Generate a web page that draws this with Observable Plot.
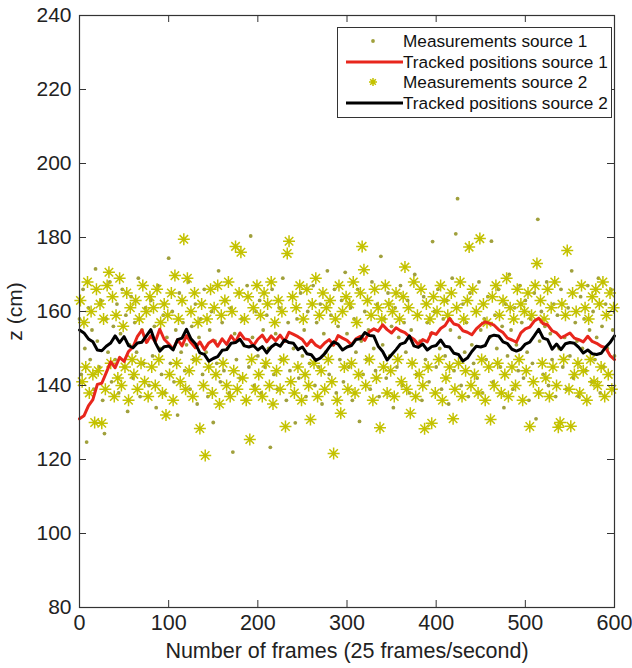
<!DOCTYPE html>
<html>
<head>
<meta charset="utf-8">
<script src="https://cdn.jsdelivr.net/npm/d3@7"></script>
<script src="https://cdn.jsdelivr.net/npm/@observablehq/plot@0.6"></script>
<style>
  html, body { margin: 0; padding: 0; background: #fff; }
  #wrap { position: relative; width: 632px; height: 668px; font-family: "Liberation Sans", Arial, Helvetica, sans-serif; }
  #legend { position: absolute; left: 337px; top: 27px; width: 275px; height: 91px; border: 1px solid #333; background: #fff; box-sizing: border-box; font-size: 17.2px; color: #111; }
  #legend .row { position: absolute; left: 0; height: 20px; width: 100%; }
  #legend svg { position: absolute; left: 6px; top: 0; }
  #legend span { position: absolute; left: 65px; top: 0; line-height: 20px; white-space: nowrap; }
</style>
</head>
<body>
<div id="wrap"></div>
<script>
// ---- Data ----
const xTicks = [0, 100, 200, 300, 400, 500, 600];
const yTicks = [80, 100, 120, 140, 160, 180, 200, 220, 240];
const seriesNames = ["Measurements source 1", "Tracked positions source 1", "Measurements source 2", "Tracked positions source 2"];

// Measurements source 1 (dots), frames 0,2,4,...,600
const meas1 = [
158,143,166,150,124.7,161,147,155,139,171.5,
152,145,163,136,127,158,149,168,141,156,
147,162,138,154,166,145,159,133,151,164,
142,157,149,169,137,155,146,161,152,140,
163,148,156,134,167,150,143,159,138,153,
174.4,146,160,141,155,132,165,149,157,144,
151,168,139,156,147,162,135,153,158,143,
166,149,137,155,160,130,152,146,171,141,
157,144,163,150,138,161,122,154,147,165,
142,158,151,136,167,145,180.4,153,140,160,
148,163,138,155,145,159,150,123.3,166,143,
154,139,161,147,169,152,136,157,144,164,
150,129.9,158,142,165,148,155,137,160,146,
152,167,140,157,145,162,135,154,149,171,
143,159,151,166,138,156,147,163,141,170.6,
154,145,161,136,158,149,166,130.3,152,143,
160,147,155,139,168,150,144,162,137,174.9,
151,158,142,165,148,156,134,161,145,153,
167,140,157,149,163,138,155,146,170,143,
159,152,136,164,147,157,141,154,178.9,160,
145,166,150,139,158,148,163,135,155,169,
144,181,190.5,153,140,162,149,157,137,165,
151,146,160,142,168,155,138,158,147,164,
153,179,141,159,150,166,145,156,134,162,
148,170,155,139,161,151,144,167,157,142,
163,149,136,158,146,165,131,184.9,152,160,
143,156,168,140,154,147,162,137,159,150,
166,145,153,139,161,148,171,142,157,152,
137,164,150,158,144,167,155,141,160,147,
153,169,138,156,145,162,150,143,166,155,
148];

// Measurements source 2 (asterisks), frames 1,3,5,...,599
const meas2 = [
163,141,157,145,168,138,160,143,130,166,
144,162,129.8,158,139,167,170.6,146,164,137,
159,142,169,140,156,145,165,136,161,147,
143,163,139,158,146,167,141,160,137,164,
145,161,140,166,147,157,138,162,132,159,
143,165,136,169.7,146,158,141,163,179.5,139,
169,144,160,137,165,147,157,128.4,162,140,
121.1,158,145,166,138,161,143,167,135,159,
146,163,140,168,137,160,144,177.6,139,165,
176,142,158,136,164,125.4,147,161,139,167,
143,159,137,165,146,162,140,168,135,157,
144,163,139,160,147,128.9,175.7,179,141,164,
138,161,145,167,136,158,143,166,140,130.8,
162,146,169,137,159,144,165,139,161,147,
163,141,121.6,158,136,167,132.5,160,145,164,
139,162,146,168,138,157,143,165,177.6,171.3,
140,163,147,159,136,166,142,161,128.6,158,
145,167,138,162,144,160,137,165,147,158,
141,164,172,139,161,132.5,146,168,137,159,
143,166,140,128.3,162,145,158,129.8,164,138,
160,147,167,136,163,142,159,145,165,131,
139,161,146,168,137,158,144,163,177.4,140,
166,143,160,138,179.7,147,162,136,157,145,
130.8,164,140,167,146,159,138,163,143,169,
137,161,145,158,140,166,147,162,136,160,
144,165,128.9,159,141,167,173,138,163,146,
158,142,166,137,161,145,168,140,128.7,130,
162,147,159,176.5,139,129,165,143,160,146,
138,167,144,161,136,158,147,164,141,166,
140,162,145,168,137,159,143,165,139,161];

// Tracked positions, frames 0,5,10,...,600
const track1 = [
131,131.8,134.5,136.2,140.3,140.6,143.5,146.4,144.8,147.6,
146.5,149.2,150.4,153.3,155,151.6,153.4,151.8,155.2,152.5,
151.3,149.8,152.4,150.7,153.5,151.6,150.2,151.8,149.7,151.5,
152.3,150.6,152.6,151.1,153.4,151.8,154.2,152.6,152.4,150.8,
152.5,153.6,151.8,153.4,152.1,153.6,151.9,154.4,153.8,153.2,
152.4,150.8,152.3,150.9,150.2,151.5,152.4,150.9,153.5,152.8,
152.2,151,152.6,153.3,152.2,154.5,155.3,154.7,156.4,155.1,
154.2,155.6,154.8,154.3,153.2,152.5,151.1,152.4,151.8,154.3,
153.8,155.4,156.2,158.1,156.6,156.3,154.8,154.4,153.7,155.3,
156.4,157.2,156.8,156.3,155.1,154.3,152.8,152.3,151.7,154.2,
155.3,155.8,157.4,158.2,156.7,156.4,154.8,154.2,152.9,153.5,
154.2,152.8,152.4,151.8,153.3,151.9,151.4,150.6,150.2,148.1,
147];
const track2 = [
155,154.2,152.6,151.8,149.6,149.4,150.6,151.5,153.4,151.6,
153.2,150.8,150.2,151.5,151.7,153.4,155.1,151.6,149.3,150.5,
150.7,149.6,152.4,152.8,155.2,152.6,151.3,148.8,148.4,146.6,
147.3,147.8,149.5,149.7,151.4,151.6,152.5,150.7,150.4,150.8,
149.6,150.5,148.8,150.4,151.3,150.6,152.3,151.6,151.4,149.7,
150.4,148.6,148.3,146.8,147.4,148.6,150.3,151.8,151.2,149.6,
150.4,150.8,152.4,152.6,154.3,153.5,153.4,150.6,149.2,146.9,
148.3,149.7,151.2,151.6,153.4,150.7,150.3,151.2,149.6,150.5,
150.8,152.3,150.6,150.4,148.7,148.4,146.6,147.4,149.2,150.6,
150.4,150.8,153.2,153.6,153.4,151.8,151.3,149.8,149.3,149.8,
151.2,151.7,153.4,155.2,152.8,152.4,149.8,151.2,149.7,151.3,
151.6,151.4,150.3,148.8,149.6,148.6,148.4,148.7,150.3,151.6,
153.4];

// ---- Build tables ----
const pts1 = meas1.map((v, i) => ({frame: i * 2, z: v}));
const pts2 = meas2.map((v, i) => ({frame: i * 2 + 1, z: v}));
const tr1 = track1.map((v, i) => ({frame: i * 5, z: v}));
const tr2 = track2.map((v, i) => ({frame: i * 5, z: v}));

const xDom = [xTicks[0], xTicks[xTicks.length - 1]];
const yDom = [yTicks[0], yTicks[yTicks.length - 1]];
const W = 632, H = 668, mL = 79, mR = 18, mT = 15, mB = 61;
const tickPx = 7;
const yTickLen = tickPx * (yDom[1] - yDom[0]) / (H - mT - mB);
const xTickLen = tickPx * (xDom[1] - xDom[0]) / (W - mL - mR);

const dotColor = "#a0a03c";
const starColor = "#c4c200";
const redColor = "#e8261c";

// MATLAB-style 8-armed asterisk
const star8 = {
  draw(context, size) {
    const r = Math.sqrt(size / Math.PI);
    const d = r * Math.SQRT1_2;
    context.moveTo(-r, 0); context.lineTo(r, 0);
    context.moveTo(0, -r); context.lineTo(0, r);
    context.moveTo(-d, -d); context.lineTo(d, d);
    context.moveTo(-d, d); context.lineTo(d, -d);
  }
};

const chart = Plot.plot({
  width: W, height: H,
  marginLeft: mL, marginRight: mR, marginTop: mT, marginBottom: mB,
  style: {fontFamily: "'Liberation Sans', Arial, Helvetica, sans-serif", fontSize: "21px", color: "#222", background: "#fff", overflow: "visible"},
  x: {domain: xDom, ticks: xTicks, label: null},
  y: {domain: yDom, ticks: yTicks, label: null},
  marks: [
    Plot.dot(pts1, {x: "frame", y: "z", r: 1.9, fill: dotColor, stroke: "none"}),
    Plot.dot(pts2, {x: "frame", y: "z", symbol: star8, r: 6, stroke: starColor, strokeWidth: 1.5}),
    Plot.line(tr1, {x: "frame", y: "z", stroke: redColor, strokeWidth: 3}),
    Plot.line(tr2, {x: "frame", y: "z", stroke: "#000", strokeWidth: 3}),
    Plot.frame({stroke: "#333", strokeWidth: 1.2}),
    Plot.ruleX(xTicks, {x: d => d, y1: yDom[0], y2: yDom[0] + yTickLen, stroke: "#333"}),
    Plot.ruleX(xTicks, {x: d => d, y1: yDom[1], y2: yDom[1] - yTickLen, stroke: "#333"}),
    Plot.ruleY(yTicks, {y: d => d, x1: xDom[0], x2: xDom[0] + xTickLen, stroke: "#333"}),
    Plot.ruleY(yTicks, {y: d => d, x1: xDom[1], x2: xDom[1] - xTickLen, stroke: "#333"}),
    Plot.axisX({ticks: xTicks, tickSize: 0, tickPadding: 7, fontSize: 21.5, label: "Number of frames (25 frames/second)", labelAnchor: "center", labelArrow: "none", labelOffset: 50}),
    Plot.axisY({ticks: yTicks, tickSize: 0, tickPadding: 8, fontSize: 21, label: "z (cm)", labelAnchor: "center", labelArrow: "none", labelOffset: 72})
  ]
});

const wrap = document.getElementById("wrap");
wrap.appendChild(chart);

// ---- Legend ----
const legend = document.createElement("div");
legend.id = "legend";
const rows = [
  {name: seriesNames[0], type: "dot"},
  {name: seriesNames[1], type: "line", color: redColor},
  {name: seriesNames[2], type: "star"},
  {name: seriesNames[3], type: "line", color: "#000"}
];
rows.forEach((r, i) => {
  const row = document.createElement("div");
  row.className = "row";
  row.style.top = (3 + i * 20.5) + "px";
  let sw = "";
  if (r.type === "dot") sw = `<circle cx="29" cy="10" r="1.9" fill="${dotColor}"/>`;
  else if (r.type === "line") sw = `<line x1="2" x2="59" y1="10" y2="10" stroke="${r.color}" stroke-width="3"/>`;
  else {
    const p = d3.path();
    star8.draw(p, Math.PI * 16);
    sw = `<path d="${p}" transform="translate(29,10)" fill="none" stroke="${starColor}" stroke-width="1.5"/>`;
  }
  row.innerHTML = `<svg width="60" height="20">${sw}</svg><span>${r.name}</span>`;
  legend.appendChild(row);
});
wrap.appendChild(legend);
</script>
</body>
</html>
